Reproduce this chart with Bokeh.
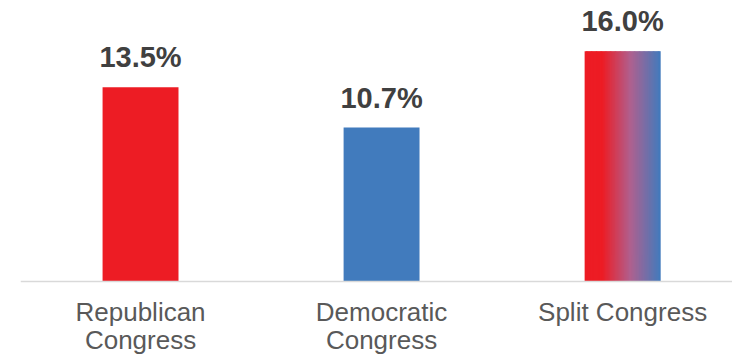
from bokeh.plotting import figure
from bokeh.models import Range1d, ColumnDataSource, Span
from bokeh.core.properties import value
from bokeh.embed import file_html
from bokeh.resources import INLINE

categories = ["Republican\nCongress", "Democratic\nCongress", "Split Congress"]
values = [13.5, 10.7, 16.0]
labels = ["13.5%", "10.7%", "16.0%"]
colors = ["#ED1C24", "#417BBD", None]
gradient_stops = ["#ED1C24", "#ED1C24", "#B0608E", "#417BBD"]
gradient_pos = [0.0, 0.23, 0.6, 1.0]

xs = list(range(len(categories)))
bar_w = 0.315

p = figure(width=732, height=356, output_backend="svg", toolbar_location=None,
           x_range=Range1d(-0.498, 2.456), y_range=Range1d(-5.21, 19.32),
           min_border_left=20, min_border_right=0, min_border_top=3, min_border_bottom=0)
p.outline_line_color = None
p.xgrid.visible = False
p.ygrid.visible = False
p.yaxis.visible = False
p.xaxis.visible = False

solid = [i for i in xs if colors[i] is not None]
p.vbar(x=[xs[i] for i in solid], top=[values[i] for i in solid], width=bar_w,
       fill_color=[colors[i] for i in solid], line_color=None)

def hex2rgb(h):
    h = h.lstrip("#")
    return tuple(int(h[k:k + 2], 16) for k in (0, 2, 4))

stops = [hex2rgb(c) for c in gradient_stops]

def grad(t):
    for a in range(len(gradient_pos) - 1):
        if t <= gradient_pos[a + 1]:
            span = gradient_pos[a + 1] - gradient_pos[a]
            f = (t - gradient_pos[a]) / span if span else 0
            c = tuple(round(u + (v - u) * f) for u, v in zip(stops[a], stops[a + 1]))
            return "#%02x%02x%02x" % c
    return gradient_stops[-1]

n = 60
for i in xs:
    if colors[i] is not None:
        continue
    left_edge = xs[i] - bar_w / 2
    right_edge = xs[i] + bar_w / 2
    step = bar_w / n
    ls, rs, sc = [], [], []
    for k in range(n):
        t = (k + 0.5) / n
        ls.append(left_edge + step * k)
        rs.append(min(left_edge + step * (k + 1.8), right_edge))
        sc.append(grad(t))
    p.quad(left=ls, right=rs, bottom=0, top=[values[i]] * n,
           fill_color=sc, line_color=None)

# baseline (category axis line)
p.add_layout(Span(location=0, dimension="width", line_color="#D9D9D9", line_width=1.5))

src = ColumnDataSource(dict(x=xs, y=values, t=labels))
p.text(x="x", y="y", text="t", source=src, y_offset=-30, text_align="center",
       text_baseline="alphabetic", text_font=value("Liberation Sans"),
       text_font_style="bold", text_font_size="29px", text_color="#404040")

# category labels, two lines below the baseline
parts = [c.split("\n") for c in categories]
line1 = [pt[0] for pt in parts]
line2 = [pt[1] if len(pt) > 1 else "" for pt in parts]
cat_src = ColumnDataSource(dict(x=xs, y=[0] * len(xs), l1=line1, l2=line2))
for col, off in (("l1", 30), ("l2", 58)):
    p.text(x="x", y="y", text=col, source=cat_src, y_offset=off,
           text_align="center", text_baseline="alphabetic",
           text_font=value("Liberation Sans"), text_font_size="26px",
           text_color="#595959")

open("out.html", "w").write(file_html(p, INLINE))
